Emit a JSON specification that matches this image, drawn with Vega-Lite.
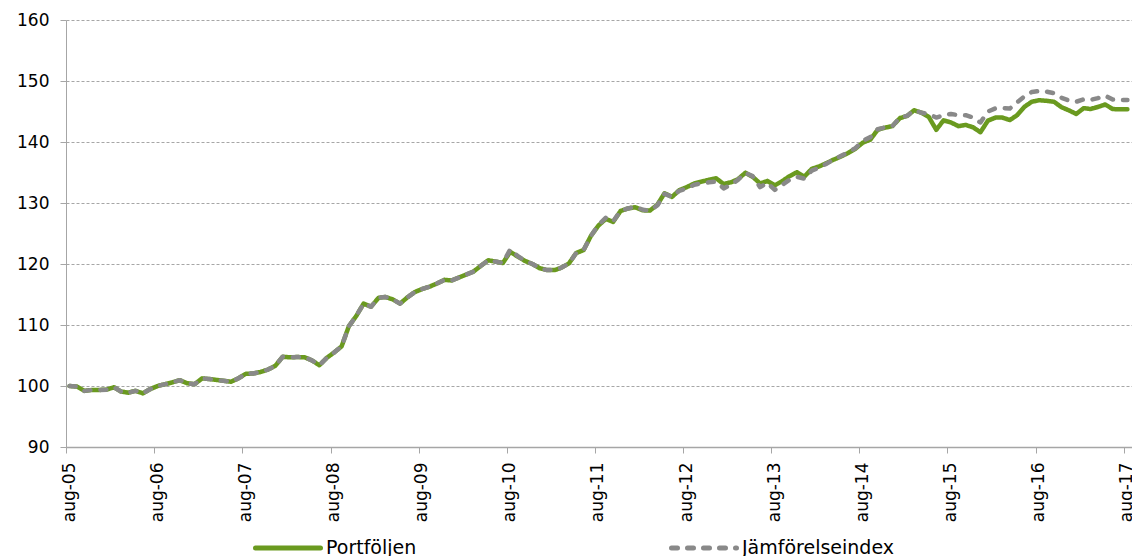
{
"$schema":"https://vega.github.io/schema/vega-lite/v6.json",
"width":1066,"height":427,
"autosize":{"type":"none"},
"padding":{"left":66,"top":20,"right":0,"bottom":109},
"background":"white",
"config":{"view":{"stroke":null},"font":"DejaVu Sans",
"legend":{"orient":"none","legendX":187,"legendY":493,"direction":"horizontal","symbolType":"stroke","symbolSize":4225,"symbolStrokeWidth":5,"labelFontSize":19,"labelFont":"DejaVu Sans","labelColor":"#000","columnPadding":244,"labelOffset":3}},
"data":{"values":[
{"d":"2005-08-16","Portföljen":100.0,"Jämförelseindex":100.0},
{"d":"2005-09-16","Portföljen":99.9,"Jämförelseindex":99.9},
{"d":"2005-10-16","Portföljen":99.2,"Jämförelseindex":99.2},
{"d":"2005-11-16","Portföljen":99.35,"Jämförelseindex":99.35},
{"d":"2005-12-16","Portföljen":99.35,"Jämförelseindex":99.35},
{"d":"2006-01-16","Portföljen":99.4,"Jämförelseindex":99.4},
{"d":"2006-02-16","Portföljen":99.8,"Jämförelseindex":99.8},
{"d":"2006-03-16","Portföljen":99.1,"Jämförelseindex":99.1},
{"d":"2006-04-16","Portföljen":98.9,"Jämförelseindex":98.9},
{"d":"2006-05-16","Portföljen":99.2,"Jämförelseindex":99.2},
{"d":"2006-06-16","Portföljen":98.8,"Jämförelseindex":98.8},
{"d":"2006-07-16","Portföljen":99.5,"Jämförelseindex":99.5},
{"d":"2006-08-16","Portföljen":100.0,"Jämförelseindex":100.0},
{"d":"2006-09-16","Portföljen":100.3,"Jämförelseindex":100.3},
{"d":"2006-10-16","Portföljen":100.6,"Jämförelseindex":100.6},
{"d":"2006-11-16","Portföljen":100.95,"Jämförelseindex":100.95},
{"d":"2006-12-16","Portföljen":100.45,"Jämförelseindex":100.45},
{"d":"2007-01-16","Portföljen":100.3,"Jämförelseindex":100.3},
{"d":"2007-02-16","Portföljen":101.25,"Jämförelseindex":101.25},
{"d":"2007-03-16","Portföljen":101.15,"Jämförelseindex":101.15},
{"d":"2007-04-16","Portföljen":101.0,"Jämförelseindex":101.0},
{"d":"2007-05-16","Portföljen":100.85,"Jämförelseindex":100.85},
{"d":"2007-06-16","Portföljen":100.7,"Jämförelseindex":100.7},
{"d":"2007-07-16","Portföljen":101.25,"Jämförelseindex":101.25},
{"d":"2007-08-16","Portföljen":102.0,"Jämförelseindex":102.0},
{"d":"2007-09-16","Portföljen":102.05,"Jämförelseindex":102.05},
{"d":"2007-10-16","Portföljen":102.3,"Jämförelseindex":102.3},
{"d":"2007-11-16","Portföljen":102.7,"Jämförelseindex":102.7},
{"d":"2007-12-16","Portföljen":103.3,"Jämförelseindex":103.3},
{"d":"2008-01-16","Portföljen":104.8,"Jämförelseindex":104.8},
{"d":"2008-02-16","Portföljen":104.7,"Jämförelseindex":104.7},
{"d":"2008-03-16","Portföljen":104.75,"Jämförelseindex":104.75},
{"d":"2008-04-16","Portföljen":104.7,"Jämförelseindex":104.7},
{"d":"2008-05-16","Portföljen":104.2,"Jämförelseindex":104.2},
{"d":"2008-06-16","Portföljen":103.4,"Jämförelseindex":103.4},
{"d":"2008-07-16","Portföljen":104.6,"Jämförelseindex":104.6},
{"d":"2008-08-16","Portföljen":105.5,"Jämförelseindex":105.5},
{"d":"2008-09-16","Portföljen":106.5,"Jämförelseindex":106.5},
{"d":"2008-10-16","Portföljen":109.8,"Jämförelseindex":109.8},
{"d":"2008-11-16","Portföljen":111.5,"Jämförelseindex":111.5},
{"d":"2008-12-16","Portföljen":113.5,"Jämförelseindex":113.5},
{"d":"2009-01-16","Portföljen":113.0,"Jämförelseindex":113.0},
{"d":"2009-02-16","Portföljen":114.45,"Jämförelseindex":114.45},
{"d":"2009-03-16","Portföljen":114.6,"Jämförelseindex":114.6},
{"d":"2009-04-16","Portföljen":114.2,"Jämförelseindex":114.2},
{"d":"2009-05-16","Portföljen":113.5,"Jämförelseindex":113.5},
{"d":"2009-06-16","Portföljen":114.55,"Jämförelseindex":114.55},
{"d":"2009-07-16","Portföljen":115.4,"Jämförelseindex":115.4},
{"d":"2009-08-16","Portföljen":115.9,"Jämförelseindex":115.9},
{"d":"2009-09-16","Portföljen":116.3,"Jämförelseindex":116.3},
{"d":"2009-10-16","Portföljen":116.8,"Jämförelseindex":116.8},
{"d":"2009-11-16","Portföljen":117.4,"Jämförelseindex":117.4},
{"d":"2009-12-16","Portföljen":117.3,"Jämförelseindex":117.3},
{"d":"2010-01-16","Portföljen":117.8,"Jämförelseindex":117.8},
{"d":"2010-02-16","Portföljen":118.3,"Jämförelseindex":118.3},
{"d":"2010-03-16","Portföljen":118.75,"Jämförelseindex":118.75},
{"d":"2010-04-16","Portföljen":119.7,"Jämförelseindex":119.7},
{"d":"2010-05-16","Portföljen":120.6,"Jämförelseindex":120.6},
{"d":"2010-06-16","Portföljen":120.4,"Jämförelseindex":120.4},
{"d":"2010-07-16","Portföljen":120.15,"Jämförelseindex":120.15},
{"d":"2010-08-16","Portföljen":122.0,"Jämförelseindex":122.4},
{"d":"2010-09-16","Portföljen":121.2,"Jämförelseindex":121.3},
{"d":"2010-10-16","Portföljen":120.5,"Jämförelseindex":120.5},
{"d":"2010-11-16","Portföljen":120.0,"Jämförelseindex":120.0},
{"d":"2010-12-16","Portföljen":119.3,"Jämförelseindex":119.3},
{"d":"2011-01-16","Portföljen":119.0,"Jämförelseindex":119.0},
{"d":"2011-02-16","Portföljen":119.0,"Jämförelseindex":119.0},
{"d":"2011-03-16","Portföljen":119.4,"Jämförelseindex":119.4},
{"d":"2011-04-16","Portföljen":120.1,"Jämförelseindex":120.1},
{"d":"2011-05-16","Portföljen":121.8,"Jämförelseindex":121.8},
{"d":"2011-06-16","Portföljen":122.3,"Jämförelseindex":122.3},
{"d":"2011-07-16","Portföljen":124.6,"Jämförelseindex":124.6},
{"d":"2011-08-16","Portföljen":126.3,"Jämförelseindex":126.4},
{"d":"2011-09-16","Portföljen":127.4,"Jämförelseindex":127.6},
{"d":"2011-10-16","Portföljen":126.9,"Jämförelseindex":127.0},
{"d":"2011-11-16","Portföljen":128.7,"Jämförelseindex":128.7},
{"d":"2011-12-16","Portföljen":129.1,"Jämförelseindex":129.1},
{"d":"2012-01-16","Portföljen":129.3,"Jämförelseindex":129.4},
{"d":"2012-02-16","Portföljen":128.8,"Jämförelseindex":128.9},
{"d":"2012-03-16","Portföljen":128.75,"Jämförelseindex":128.75},
{"d":"2012-04-16","Portföljen":129.7,"Jämförelseindex":129.6},
{"d":"2012-05-16","Portföljen":131.6,"Jämförelseindex":131.5},
{"d":"2012-06-16","Portföljen":131.0,"Jämförelseindex":131.0},
{"d":"2012-07-16","Portföljen":132.1,"Jämförelseindex":132.0},
{"d":"2012-08-16","Portföljen":132.6,"Jämförelseindex":132.4},
{"d":"2012-09-16","Portföljen":133.2,"Jämförelseindex":133.0},
{"d":"2012-10-16","Portföljen":133.5,"Jämförelseindex":133.2},
{"d":"2012-11-16","Portföljen":133.8,"Jämförelseindex":133.4},
{"d":"2012-12-16","Portföljen":134.05,"Jämförelseindex":133.5},
{"d":"2013-01-16","Portföljen":133.1,"Jämförelseindex":132.4},
{"d":"2013-02-16","Portföljen":133.4,"Jämförelseindex":133.0},
{"d":"2013-03-16","Portföljen":133.9,"Jämförelseindex":133.8},
{"d":"2013-04-16","Portföljen":134.95,"Jämförelseindex":134.95},
{"d":"2013-05-16","Portföljen":134.3,"Jämförelseindex":134.4},
{"d":"2013-06-16","Portföljen":133.2,"Jämförelseindex":132.6},
{"d":"2013-07-16","Portföljen":133.6,"Jämförelseindex":133.3},
{"d":"2013-08-16","Portföljen":132.9,"Jämförelseindex":132.15},
{"d":"2013-09-16","Portföljen":133.6,"Jämförelseindex":133.0},
{"d":"2013-10-16","Portföljen":134.4,"Jämförelseindex":133.8},
{"d":"2013-11-16","Portföljen":135.05,"Jämförelseindex":134.3},
{"d":"2013-12-16","Portföljen":134.3,"Jämförelseindex":134.0},
{"d":"2014-01-16","Portföljen":135.6,"Jämförelseindex":135.3},
{"d":"2014-02-16","Portföljen":136.0,"Jämförelseindex":135.8},
{"d":"2014-03-16","Portföljen":136.5,"Jämförelseindex":136.4},
{"d":"2014-04-16","Portföljen":137.1,"Jämförelseindex":137.1},
{"d":"2014-05-16","Portföljen":137.6,"Jämförelseindex":137.7},
{"d":"2014-06-16","Portföljen":138.2,"Jämförelseindex":138.3},
{"d":"2014-07-16","Portföljen":138.9,"Jämförelseindex":139.0},
{"d":"2014-08-16","Portföljen":139.9,"Jämförelseindex":140.2},
{"d":"2014-09-16","Portföljen":140.4,"Jämförelseindex":140.8},
{"d":"2014-10-16","Portföljen":142.0,"Jämförelseindex":142.1},
{"d":"2014-11-16","Portföljen":142.35,"Jämförelseindex":142.4},
{"d":"2014-12-16","Portföljen":142.6,"Jämförelseindex":142.6},
{"d":"2015-01-16","Portföljen":143.9,"Jämförelseindex":144.0},
{"d":"2015-02-16","Portföljen":144.3,"Jämförelseindex":144.3},
{"d":"2015-03-16","Portföljen":145.2,"Jämförelseindex":145.2},
{"d":"2015-04-16","Portföljen":144.8,"Jämförelseindex":144.8},
{"d":"2015-05-16","Portföljen":144.1,"Jämförelseindex":144.6},
{"d":"2015-06-16","Portföljen":142.0,"Jämförelseindex":144.0},
{"d":"2015-07-16","Portföljen":143.55,"Jämförelseindex":144.4},
{"d":"2015-08-16","Portföljen":143.2,"Jämförelseindex":144.6},
{"d":"2015-09-16","Portföljen":142.6,"Jämförelseindex":144.4},
{"d":"2015-10-16","Portföljen":142.8,"Jämförelseindex":144.4},
{"d":"2015-11-16","Portföljen":142.4,"Jämförelseindex":144.0},
{"d":"2015-12-16","Portföljen":141.6,"Jämförelseindex":143.2},
{"d":"2016-01-16","Portföljen":143.5,"Jämförelseindex":145.0},
{"d":"2016-02-16","Portföljen":144.0,"Jämförelseindex":145.5},
{"d":"2016-03-16","Portföljen":144.0,"Jämförelseindex":145.55},
{"d":"2016-04-16","Portföljen":143.6,"Jämförelseindex":145.5},
{"d":"2016-05-16","Portföljen":144.4,"Jämförelseindex":146.5},
{"d":"2016-06-16","Portföljen":145.8,"Jämförelseindex":147.5},
{"d":"2016-07-16","Portföljen":146.6,"Jämförelseindex":148.2},
{"d":"2016-08-16","Portföljen":146.85,"Jämförelseindex":148.35},
{"d":"2016-09-16","Portföljen":146.75,"Jämförelseindex":148.25},
{"d":"2016-10-16","Portföljen":146.6,"Jämförelseindex":148.0},
{"d":"2016-11-16","Portföljen":145.7,"Jämförelseindex":147.25},
{"d":"2016-12-16","Portföljen":145.2,"Jämförelseindex":146.8},
{"d":"2017-01-16","Portföljen":144.6,"Jämförelseindex":146.6},
{"d":"2017-02-16","Portföljen":145.55,"Jämförelseindex":147.0},
{"d":"2017-03-16","Portföljen":145.4,"Jämförelseindex":146.9},
{"d":"2017-04-16","Portföljen":145.75,"Jämförelseindex":147.2},
{"d":"2017-05-16","Portföljen":146.15,"Jämförelseindex":147.6},
{"d":"2017-06-16","Portföljen":145.4,"Jämförelseindex":146.95},
{"d":"2017-07-16","Portföljen":145.35,"Jämförelseindex":146.9},
{"d":"2017-08-16","Portföljen":145.35,"Jämförelseindex":146.9}
]},
"transform":[{"fold":["Portföljen","Jämförelseindex"],"as":["serie","varde"]}],
"mark":{"type":"line","strokeWidth":4.5,"strokeCap":"round","strokeJoin":"round"},
"encoding":{
"x":{"field":"d","type":"temporal","title":null,
 "scale":{"type":"utc","domain":[{"year":2005,"month":8,"date":1,"utc":true},{"year":2017,"month":9,"date":4,"utc":true}]},
 "axis":{"values":[
 {"year":2005,"month":8,"date":1,"utc":true},{"year":2006,"month":8,"date":1,"utc":true},{"year":2007,"month":8,"date":1,"utc":true},{"year":2008,"month":8,"date":1,"utc":true},{"year":2009,"month":8,"date":1,"utc":true},{"year":2010,"month":8,"date":1,"utc":true},{"year":2011,"month":8,"date":1,"utc":true},{"year":2012,"month":8,"date":1,"utc":true},{"year":2013,"month":8,"date":1,"utc":true},{"year":2014,"month":8,"date":1,"utc":true},{"year":2015,"month":8,"date":1,"utc":true},{"year":2016,"month":8,"date":1,"utc":true},{"year":2017,"month":8,"date":1,"utc":true}],
 "labelExpr":"'aug-' + utcFormat(datum.value, '%y')",
 "labelAngle":270,"labelAlign":"right","labelBaseline":"middle","labelPadding":9,"labelOffset":3,"labelOverlap":false,"labelBound":false,"labelFlush":false,
 "tickSize":6,"tickColor":"#a6a6a6","domainColor":"#a6a6a6","domainWidth":1.5,"grid":false,
 "labelFontSize":17,"labelColor":"#000","labelFont":"DejaVu Sans"}},
"y":{"field":"varde","type":"quantitative","title":null,
 "scale":{"domain":[90,160],"nice":false,"zero":false},
 "axis":{"values":[90,100,110,120,130,140,150,160],"grid":true,"gridDash":[3,2],"gridColor":"#a6a6a6","gridWidth":1,
 "domainColor":"#a6a6a6","tickColor":"#a6a6a6","tickSize":6,"labelFontSize":17,"labelColor":"#000","labelPadding":11,"labelFont":"DejaVu Sans"}},
"color":{"field":"serie","type":"nominal","title":null,
 "scale":{"domain":["Portföljen","Jämförelseindex"],"range":["#6A9A1F","#898989"]},
 "legend":{"encode":{"symbols":{"update":{"strokeCap":{"value":"round"}}}}}},
"strokeDash":{"field":"serie","type":"nominal","title":null,
 "scale":{"domain":["Portföljen","Jämförelseindex"],"range":[[1,0],[6,10]]},
 "legend":{"encode":{"symbols":{"update":{"strokeCap":{"value":"round"}}}}}}
}
}
